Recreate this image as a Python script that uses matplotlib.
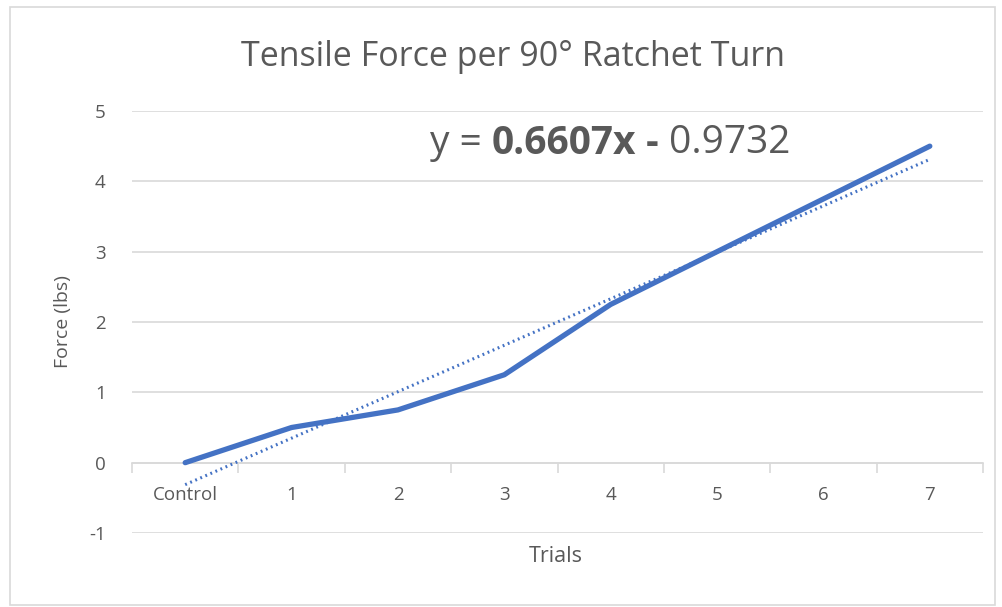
import matplotlib
matplotlib.use("Agg")
import matplotlib.pyplot as plt
from matplotlib.patches import Rectangle

# trial data
trials = ["Control", "1", "2", "3", "4", "5", "6", "7"]
force = [0, 0.5, 0.75, 1.25, 2.25, 3.0, 3.75, 4.5]
slope = 0.6607
intercept = -0.9732

plt.rcParams["font.family"] = ["Open Sans", "DejaVu Sans"]
plt.rcParams["axes.unicode_minus"] = False

txt = "#595959"
blue = "#4472C4"
grid = "#d9d9d9"

fig = plt.figure(figsize=(10.02, 6.07), dpi=100)
fig.patches.append(Rectangle((10 / 1002, 1 - 605 / 607), 985 / 1002, 598 / 607,
                             transform=fig.transFigure, fill=False,
                             edgecolor=grid, lw=1.2))

ax = fig.add_axes([132 / 1002, 1 - 533 / 607, 851 / 1002, 422 / 607])
x = list(range(len(trials)))
trend = [slope * (i + 1) + intercept for i in x]

ax.plot(x, force, color=blue, lw=3.8, solid_capstyle="round", zorder=3)
ax.plot(x, trend, color=blue, lw=2.2, linestyle=(0, (0.6, 1.2)), zorder=3)

ax.set_xlim(-0.5, 7.5)
ax.set_ylim(-1, 5)
ax.set_yticks(range(-1, 6))
ax.yaxis.grid(True, color=grid, lw=1.2)
ax.set_axisbelow(True)
for s in ["top", "right", "left"]:
    ax.spines[s].set_visible(False)
ax.spines["bottom"].set_position(("data", 0))
ax.spines["bottom"].set_color(grid)
ax.spines["bottom"].set_linewidth(1.2)

ax.set_xticks(x)
ax.set_xticklabels(trials)
ax.set_xticks([i - 0.5 for i in range(len(trials) + 1)], minor=True)
ax.tick_params(axis="x", which="major", length=0, pad=17, labelsize=13.5, labelcolor=txt)
ax.tick_params(axis="x", which="minor", length=7, color=grid, width=1.2)
ax.tick_params(axis="y", length=0, pad=19, labelsize=13.5, labelcolor=txt)

fig.text(63 / 1002, 1 - 322 / 607, "Force (lbs)", rotation=90, ha="center", va="center",
         fontsize=14, color=txt)
fig.text(556 / 1002, 1 - 557 / 607, "Trials", ha="center", va="center",
         fontsize=15.5, color=txt)
fig.text(513 / 1002, 1 - 57 / 607, "Tensile Force per 90° Ratchet Turn",
         ha="center", va="center", fontsize=24.5, color=txt)

# trendline equation, pieces set side by side
parts = [("y = ", "normal"), ("0.6607x", "bold"), (" - ", "bold"), ("0.9732", "normal")]
fig.canvas.draw()
r = fig.canvas.get_renderer()
xpos = 430 / 1002
for s, w in parts:
    t = fig.text(xpos, 1 - 143 / 607, s, ha="left", va="center", fontsize=28,
                 fontweight=w, color=txt)
    bb = t.get_window_extent(renderer=r)
    xpos += bb.width / fig.bbox.width

fig.savefig("out.png", dpi=100)
